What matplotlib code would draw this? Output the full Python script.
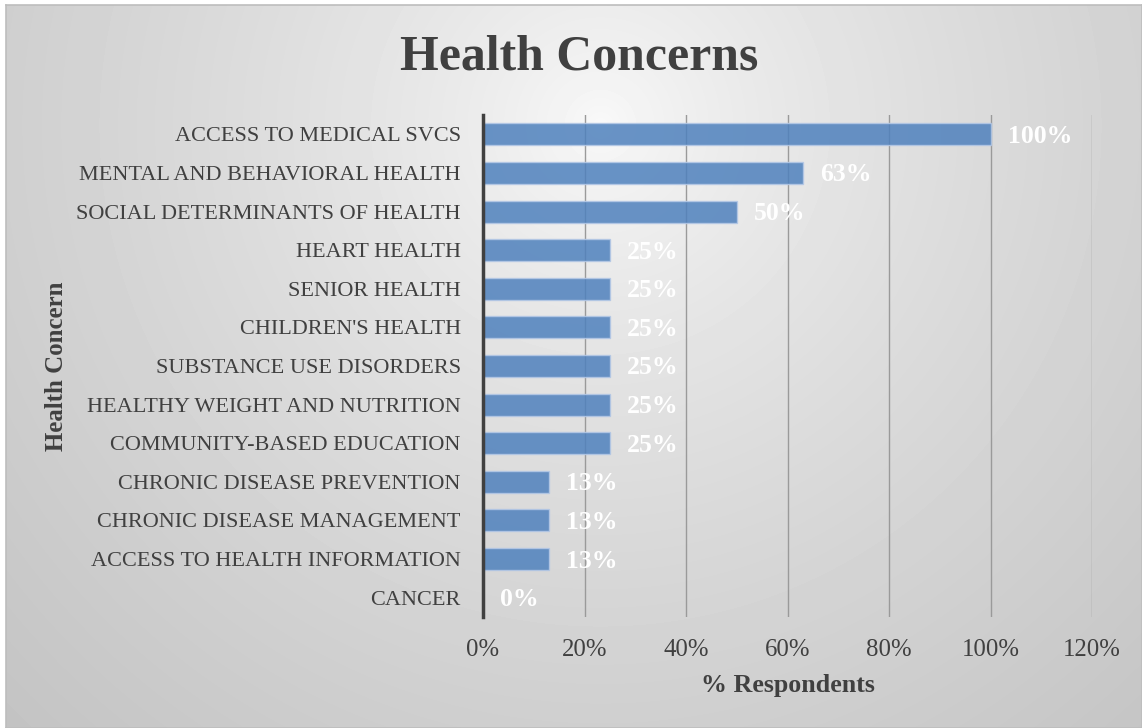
import numpy as np
import matplotlib.pyplot as plt

concerns = ["ACCESS TO MEDICAL SVCS", "MENTAL AND BEHAVIORAL HEALTH",
            "SOCIAL DETERMINANTS OF HEALTH", "HEART HEALTH", "SENIOR HEALTH",
            "CHILDREN'S HEALTH", "SUBSTANCE USE DISORDERS",
            "HEALTHY WEIGHT AND NUTRITION", "COMMUNITY-BASED EDUCATION",
            "CHRONIC DISEASE PREVENTION", "CHRONIC DISEASE MANAGEMENT",
            "ACCESS TO HEALTH INFORMATION", "CANCER"]
pct = [100, 63, 50, 25, 25, 25, 25, 25, 25, 13, 13, 13, 0]
xticks = [0, 20, 40, 60, 80, 100, 120]

serif = ["Liberation Serif", "DejaVu Serif"]
plt.rcParams["font.family"] = serif
txt = "#404040"

W, H = 1142, 728
fig = plt.figure(figsize=(W / 100, H / 100), dpi=100)
fig.patch.set_facecolor("white")

# radial grey background for the chart area
bg = fig.add_axes([6 / W, 0, 1 - 6 / W, 1 - 5 / H], zorder=-5)
yy, xx = np.mgrid[0:723, 0:1136]
d = np.hypot(xx - 594, yy - 120) / 833.0
shade = (250 - 54 * np.clip(d, 0, 1) ** 0.7) / 255.0
bg.imshow(shade, cmap="gray", vmin=0, vmax=1, aspect="auto",
          interpolation="bilinear")
bg.set_xticks([])
bg.set_yticks([])
for s in bg.spines.values():
    s.set_color("#bdbdbd")
    s.set_linewidth(1.2)

ax = fig.add_axes([483 / W, 1 - 617 / H, 609 / W, 502 / H])
ax.set_facecolor("none")

y = np.arange(len(concerns))
ax.barh(y, pct, height=0.57, color="#4F81BD", alpha=0.85,
        edgecolor="#b4c8e6", linewidth=1, zorder=3)
for yi, v in zip(y, pct):
    ax.annotate(f"{v}%", (v, yi), xytext=(17, -2), textcoords="offset pixels",
                ha="left", va="center", color="white", fontsize=18.5,
                fontweight="bold", zorder=4)

ax.set_ylim(len(concerns) - 0.5, -0.5)
ax.set_xlim(0, 120)
ax.set_xticks(xticks)
ax.set_xticklabels([f"{t}%" for t in xticks], fontsize=17.8)
ax.set_yticks(y)
ax.set_yticklabels(concerns, fontsize=16)
ax.tick_params(axis="both", length=0, labelcolor=txt)
ax.tick_params(axis="x", pad=16)
ax.tick_params(axis="y", pad=16)

ax.grid(axis="x", color="#9a9a9a", linewidth=1, zorder=0)
for side in ["top", "right", "bottom"]:
    ax.spines[side].set_visible(False)
ax.spines["left"].set_color("#404040")
ax.spines["left"].set_linewidth(2.5)
ax.spines["left"].set_zorder(5)

ax.set_xlabel("% Respondents", fontsize=18.7, fontweight="bold", color=txt,
              labelpad=9)
fig.text(57 / W, 1 - 366 / H, "Health Concern", rotation=90, fontsize=17.9,
         fontweight="bold", color=txt, ha="center", va="center")
fig.text(579 / W, 1 - 57 / H, "Health Concerns", fontsize=35.8,
         fontweight="bold", color=txt, ha="center", va="center")

fig.savefig("out.png", dpi=100)
